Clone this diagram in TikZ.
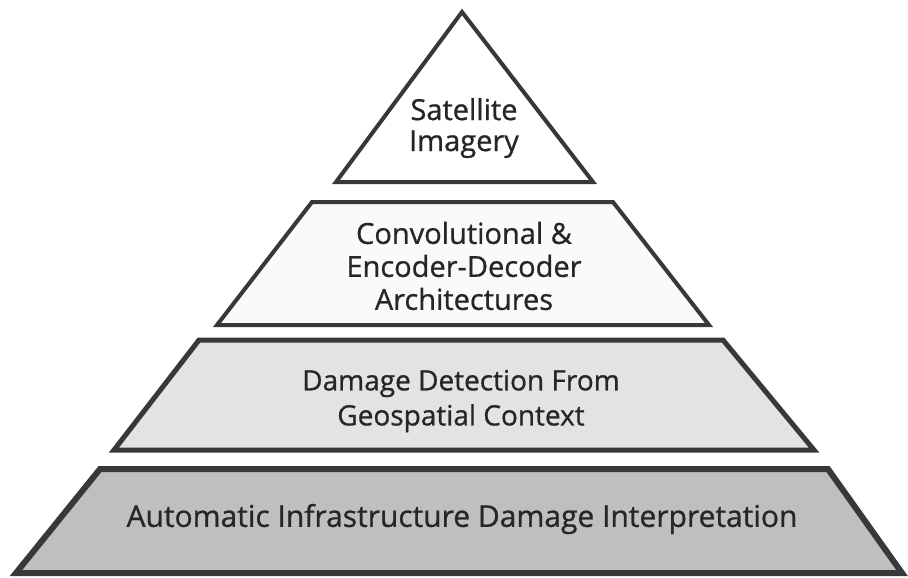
\documentclass[tikz,border=0pt]{standalone}
\usepackage{fontspec}
\newfontfamily\tierfont{Open Sans}[FakeBold=0.8]
\begin{document}
\begin{tikzpicture}[x=1pt,y=-1pt,
  tier/.style={draw=black!78, line width=4.5pt, line join=miter},
  label/.style={align=center, font=\tierfont\fontsize{29}{33}\selectfont, text=black!85, inner sep=0pt}]
\useasboundingbox (0,0) rectangle (908,578);
% top: triangle
\draw[tier, line width=4pt, fill=white] (462,12) -- (593,182) -- (336,182) -- cycle;
% second tier
\draw[tier, line width=4pt, fill=white!98!black] (312,202) -- (613,202) -- (709,325) -- (217,325) -- cycle;
% third tier
\draw[tier, line width=5pt, fill=black!11] (199,340) -- (723,340) -- (814,450) -- (114,450) -- cycle;
% base tier
\draw[tier, line width=6pt, fill=black!25] (100,469) -- (828,469) -- (902,573) -- (16,573) -- cycle;
\node[label, font=\tierfont\fontsize{29}{31}\selectfont] (l1) at (464,128) {Satellite\\Imagery};
\node[label] (l2) at (464,266) {Convolutional \&\\Encoder-Decoder\\Architectures};
\node[label, font=\tierfont\fontsize{28}{35}\selectfont] (l3) at (461,401) {Damage Detection From\\Geospatial Context};
\node[label, font=\tierfont\fontsize{30}{32}\selectfont] (l4) at (462,519) {Automatic Infrastructure Damage Interpretation};
\end{tikzpicture}
\end{document}
